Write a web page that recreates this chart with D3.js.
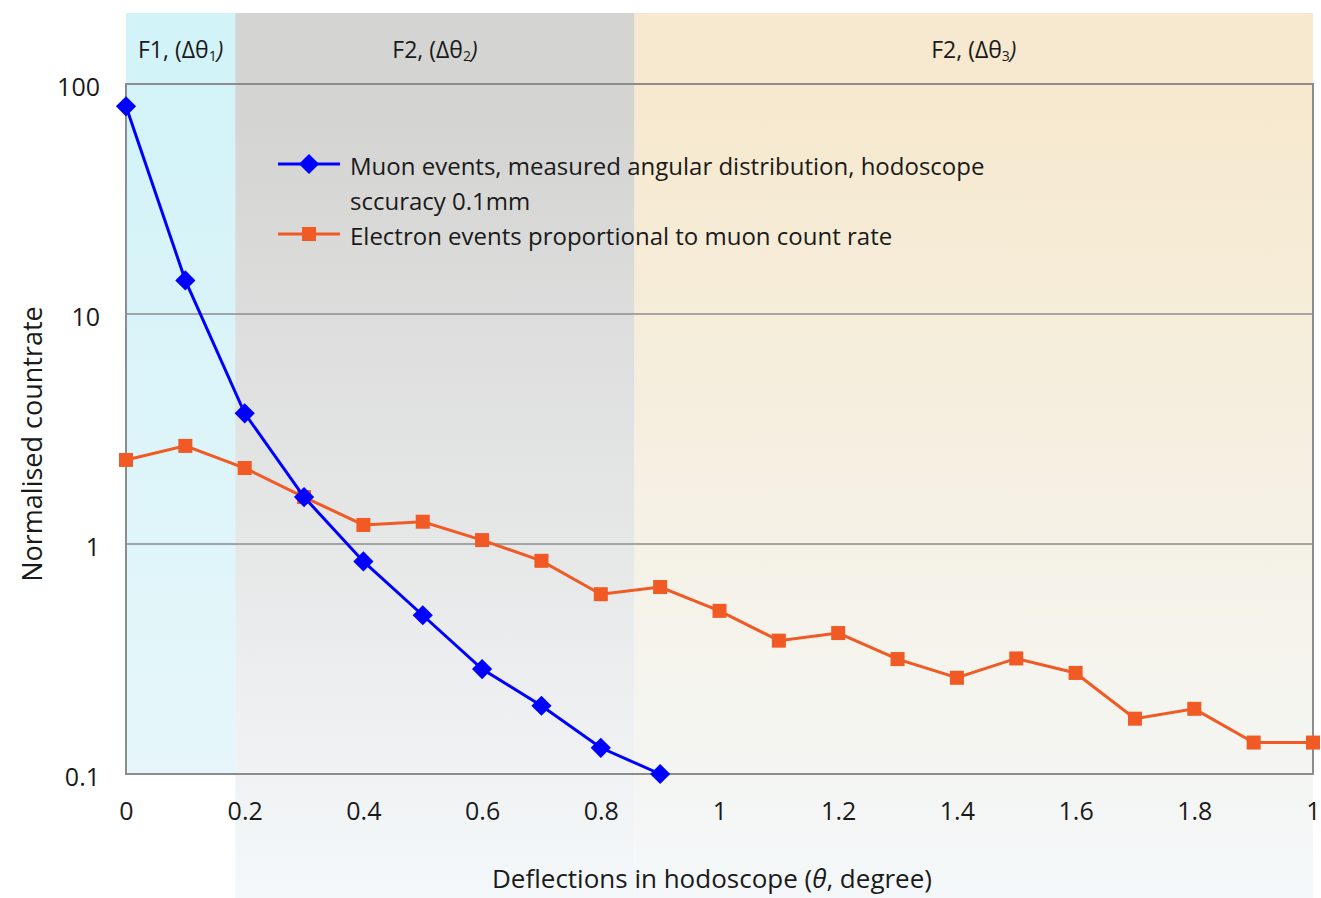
<!DOCTYPE html>
<html>
<head>
<meta charset="utf-8">
<script src="https://cdn.jsdelivr.net/npm/d3@7"></script>
<style>
  body { margin: 0; background: #fff; }
  text { font-family: "Open Sans", "Noto Sans", sans-serif; fill: #1a1a1a; }
</style>
</head>
<body>
<script>
const w = 1321, h = 898;
const margin = {top: 84, right: 8, bottom: 124, left: 126};

// data
const angles = [0, 0.1, 0.2, 0.3, 0.4, 0.5, 0.6, 0.7, 0.8, 0.9, 1.0,
                1.1, 1.2, 1.3, 1.4, 1.5, 1.6, 1.7, 1.8, 1.9, 2.0];
const muon = [80, 14, 3.7, 1.6, 0.84, 0.49, 0.286, 0.198, 0.13, 0.1];
const electron = [2.32, 2.67, 2.14, 1.6, 1.21, 1.25, 1.04, 0.845, 0.605, 0.65, 0.512,
                  0.38, 0.41, 0.316, 0.262, 0.318, 0.275, 0.174, 0.192, 0.137, 0.137];
const xTicks = [0, 0.2, 0.4, 0.6, 0.8, 1, 1.2, 1.4, 1.6, 1.8, 2];
const xTickLabels = ["0", "0.2", "0.4", "0.6", "0.8", "1", "1.2", "1.4", "1.6", "1.8", "1"];
const yTicks = [0.1, 1, 10, 100];
const yTickLabels = ["0.1", "1", "10", "100"];
const bands = [
  {name: "F1, (Δθ", sub: "1", from: 0, to: 0.184, bottom: 0.1},
  {name: "F2, (Δθ", sub: "2", from: 0.184, to: 0.857, bottom: null},
  {name: "F2, (Δθ", sub: "3", from: 0.857, to: 2, bottom: null}
];
const bandColors = [["#d2f3f8", "#e6f6fa"], ["#d4d4d2", "#f5f8fa"], ["#f6e9cf", "#f4f8fa"]];

const svg = d3.select("body").append("svg")
  .attr("width", w)
  .attr("height", h);

const xScale = d3.scaleLinear()
  .domain([0, 2])
  .range([margin.left, w - margin.right]);
const yScale = d3.scaleLog()
  .domain([0.1, 100])
  .range([h - margin.bottom, margin.top]);

// gradients for the background bands
const defs = svg.append("defs");
bandColors.forEach((c, i) => {
  const g = defs.append("linearGradient")
    .attr("id", "band" + i)
    .attr("x1", 0).attr("y1", 0).attr("x2", 0).attr("y2", 1);
  g.append("stop").attr("offset", "0%").attr("stop-color", c[0]);
  g.append("stop").attr("offset", i == 0 ? "8%" : "12%").attr("stop-color", c[0]);
  g.append("stop").attr("offset", "100%").attr("stop-color", c[1]);
});

svg.selectAll("rect.band")
  .data(bands)
  .enter()
  .append("rect")
  .attr("class", "band")
  .attr("x", d => xScale(d.from))
  .attr("width", d => xScale(d.to) - xScale(d.from))
  .attr("y", 13)
  .attr("height", d => (d.bottom ? yScale(d.bottom) : h) - 13)
  .attr("fill", (d, i) => "url(#band" + i + ")");

// band labels
const bl = svg.selectAll("text.band")
  .data(bands)
  .enter()
  .append("text")
  .attr("class", "band")
  .attr("x", d => (xScale(d.from) + xScale(d.to)) / 2)
  .attr("y", 58)
  .attr("text-anchor", "middle")
  .style("font-size", "23px");
bl.append("tspan").text(d => d.name);
bl.append("tspan").attr("dy", 3).style("font-size", "14px").text(d => d.sub);
bl.append("tspan").attr("dy", -3).style("font-style", "italic").text(")");

// grid lines
svg.selectAll("line.grid")
  .data([1, 10])
  .enter()
  .append("line")
  .attr("class", "grid")
  .attr("x1", xScale(0)).attr("x2", xScale(2))
  .attr("y1", d => yScale(d)).attr("y2", d => yScale(d))
  .attr("stroke", "#8c8c8c")
  .attr("stroke-width", 1.5);

// plot frame
svg.append("rect")
  .attr("x", xScale(0))
  .attr("y", yScale(100))
  .attr("width", xScale(2) - xScale(0))
  .attr("height", yScale(0.1) - yScale(100))
  .attr("fill", "none")
  .attr("stroke", "#8c8c8c")
  .attr("stroke-width", 2);

// axes
const xAxis = d3.axisBottom(xScale)
  .tickValues(xTicks)
  .tickSize(0)
  .tickPadding(28)
  .tickFormat((d, i) => xTickLabels[i]);
svg.append("g")
  .attr("transform", "translate(0," + yScale(0.1) + ")")
  .call(xAxis)
  .call(g => g.select(".domain").remove())
  .selectAll("text")
  .style("font-size", "25px")
  .attr("fill", "#1a1a1a");

const yAxis = d3.axisLeft(yScale)
  .tickValues(yTicks)
  .tickSize(0)
  .tickPadding(26)
  .tickFormat((d, i) => yTickLabels[i]);
svg.append("g")
  .attr("transform", "translate(" + xScale(0) + ",0)")
  .call(yAxis)
  .call(g => g.select(".domain").remove())
  .selectAll("text")
  .style("font-size", "25px")
  .attr("dy", "0.45em")
  .attr("fill", "#1a1a1a");

// axis titles
const xt = svg.append("text")
  .attr("x", 712)
  .attr("y", 888)
  .attr("text-anchor", "middle")
  .style("font-size", "26px");
xt.append("tspan").text("Deflections in hodoscope (");
xt.append("tspan").style("font-style", "italic").text("θ");
xt.append("tspan").text(", degree)");

svg.append("text")
  .attr("transform", "translate(42,444) rotate(-90)")
  .attr("text-anchor", "middle")
  .style("font-size", "27px")
  .text("Normalised countrate");

// series
const line = d3.line()
  .x(d => xScale(d[0]))
  .y(d => yScale(d[1]));

const muonData = muon.map((v, i) => [angles[i], v]);
const electronData = electron.map((v, i) => [angles[i], v]);

svg.append("path")
  .datum(electronData)
  .attr("d", line)
  .attr("fill", "none")
  .attr("stroke", "#f15a24")
  .attr("stroke-width", 3);

svg.selectAll("rect.el")
  .data(electronData)
  .enter()
  .append("rect")
  .attr("class", "el")
  .attr("x", d => xScale(d[0]) - 7)
  .attr("y", d => yScale(d[1]) - 7)
  .attr("width", 14)
  .attr("height", 14)
  .attr("fill", "#f15a24");

svg.append("path")
  .datum(muonData)
  .attr("d", line)
  .attr("fill", "none")
  .attr("stroke", "#0000ff")
  .attr("stroke-width", 3);

const diamond = d3.symbol().type(d3.symbolDiamond2).size(260);
svg.selectAll("path.mu")
  .data(muonData)
  .enter()
  .append("path")
  .attr("class", "mu")
  .attr("d", diamond)
  .attr("transform", d => "translate(" + xScale(d[0]) + "," + yScale(d[1]) + ")")
  .attr("fill", "#0000ff");

// legend
const legend = svg.append("g").attr("transform", "translate(278,0)");
legend.append("line")
  .attr("x1", 0).attr("x2", 62).attr("y1", 164).attr("y2", 164)
  .attr("stroke", "#0000ff").attr("stroke-width", 3);
legend.append("path")
  .attr("d", diamond)
  .attr("transform", "translate(31,164)")
  .attr("fill", "#0000ff");
legend.append("line")
  .attr("x1", 0).attr("x2", 62).attr("y1", 234).attr("y2", 234)
  .attr("stroke", "#f15a24").attr("stroke-width", 3);
legend.append("rect")
  .attr("x", 24).attr("y", 227).attr("width", 14).attr("height", 14)
  .attr("fill", "#f15a24");

const legendLines = ["Muon events, measured angular distribution, hodoscope",
                     "sccuracy 0.1mm",
                     "Electron events proportional to muon count rate"];
legend.selectAll("text.leg")
  .data(legendLines)
  .enter()
  .append("text")
  .attr("class", "leg")
  .attr("x", 72)
  .attr("y", (d, i) => 175 + i * 35)
  .style("font-size", "24px")
  .text(d => d);
</script>
</body>
</html>
